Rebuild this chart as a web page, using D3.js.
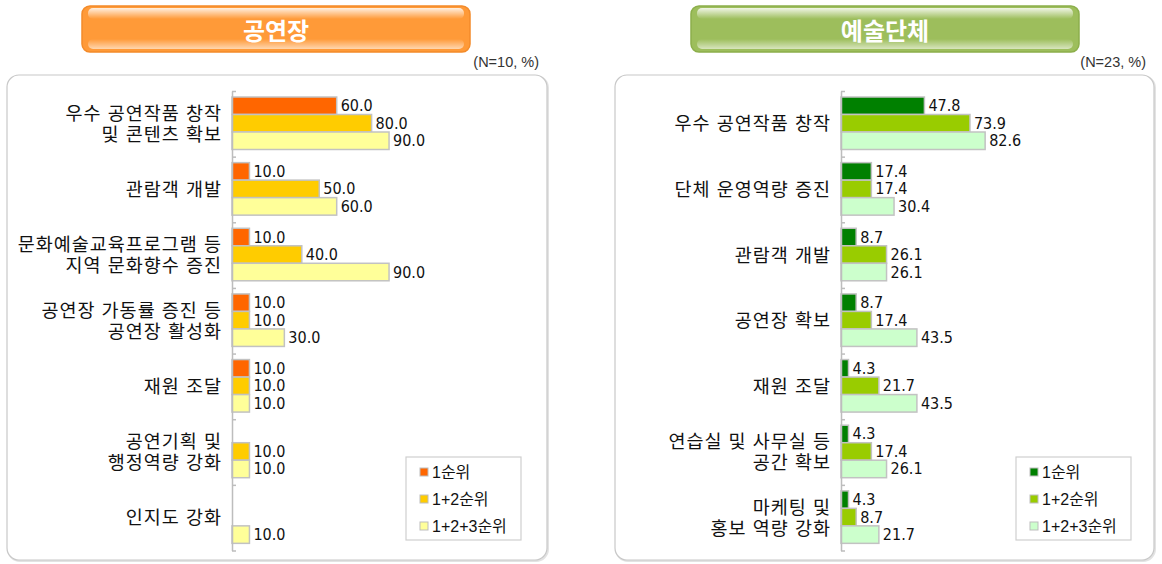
<!DOCTYPE html>
<html>
<head>
<meta charset="utf-8">
<script src="https://cdn.jsdelivr.net/npm/d3@7"></script>
<style>
  body { margin: 0; background: #fff; }
  svg { display: block; }
  .cat { font-family: "Liberation Sans", "Noto Sans CJK KR", sans-serif; font-size: 18.5px; fill: #111; letter-spacing: 1px; }
  .val { font-family: "DejaVu Sans Condensed", "DejaVu Sans", sans-serif; font-stretch: condensed; font-size: 16px; fill: #111; }
  .legend text { font-family: "Liberation Sans", "Noto Sans CJK KR", sans-serif; font-size: 16px; fill: #111; }
  .note { font-family: "Liberation Sans", sans-serif; font-size: 14.5px; fill: #333; }
  .title { font-family: "Noto Sans CJK KR", sans-serif; font-weight: bold; font-size: 24px; fill: #fff; }
  .axis path, .axis line { stroke: #bdbdbd; stroke-width: 1.5; }
</style>
</head>
<body>
<div id="chart"></div>
<script>
// ---- data ----
const seriesNames = ["1순위", "1+2순위", "1+2+3순위"];

const venueTitle = "공연장";
const venueNote = "(N=10, %)";
const venueCategories = [
  "우수 공연작품 창작\n및 콘텐츠 확보",
  "관람객 개발",
  "문화예술교육프로그램 등\n지역 문화향수 증진",
  "공연장 가동률 증진 등\n공연장 활성화",
  "재원 조달",
  "공연기획 및\n행정역량 강화",
  "인지도 강화",
];
const venueFirst = [60.0, 10.0, 10.0, 10.0, 10.0, 0, 0];
const venueFirstSecond = [80.0, 50.0, 40.0, 10.0, 10.0, 10.0, 0];
const venueAll = [90.0, 60.0, 90.0, 30.0, 10.0, 10.0, 10.0];

const groupTitle = "예술단체";
const groupNote = "(N=23, %)";
const groupCategories = [
  "우수 공연작품 창작",
  "단체 운영역량 증진",
  "관람객 개발",
  "공연장 확보",
  "재원 조달",
  "연습실 및 사무실 등\n공간 확보",
  "마케팅 및\n홍보 역량 강화",
];
const groupFirst = [47.8, 17.4, 8.7, 8.7, 4.3, 4.3, 4.3];
const groupFirstSecond = [73.9, 17.4, 26.1, 17.4, 21.7, 17.4, 8.7];
const groupAll = [82.6, 30.4, 26.1, 43.5, 43.5, 26.1, 21.7];

const svg = d3.select("#chart").append("svg")
  .attr("width", 1162).attr("height", 564);
const defs = svg.append("defs");

// glossy highlight gradients for the title buttons
const gTop = defs.append("linearGradient").attr("id", "glossTop")
  .attr("x1", 0).attr("y1", 0).attr("x2", 0).attr("y2", 1);
gTop.append("stop").attr("offset", "0%").attr("stop-color", "#fff").attr("stop-opacity", 0.85);
gTop.append("stop").attr("offset", "100%").attr("stop-color", "#fff").attr("stop-opacity", 0);
const gBot = defs.append("linearGradient").attr("id", "glossBot")
  .attr("x1", 0).attr("y1", 0).attr("x2", 0).attr("y2", 1);
gBot.append("stop").attr("offset", "0%").attr("stop-color", "#fff").attr("stop-opacity", 0);
gBot.append("stop").attr("offset", "100%").attr("stop-color", "#fff").attr("stop-opacity", 0.6);

class RankBarChart {
  constructor({ g, left, width, axisX, title, note, button, categories, series, colors, legendX }) {
    Object.assign(this, { g, left, width, axisX, title, note, button, categories, series, colors, legendX });
    this.init();
  }

  init() {
    this.top = 91;
    this.bottom = 550.5;
    this.barHeight = 17.5;
    this.barGap = 6;

    this.y = d3.scaleBand()
      .domain(this.categories)
      .range([this.top, this.bottom]);
    this.yEdges = d3.scaleLinear()
      .domain([0, this.categories.length])
      .range([this.top, this.bottom]);
    this.x = d3.scaleLinear()
      .domain([0, 100])
      .range([this.axisX, this.axisX + 174.5]);

    this.renderFrame();
    this.renderTitle();
    this.renderBars();
    this.renderAxis();
    this.renderLabels();
    this.renderLegend();
  }

  renderFrame() {
    this.g.append("rect")
      .attr("x", this.left + 1).attr("y", 76)
      .attr("width", this.width).attr("height", 485)
      .attr("rx", 12)
      .attr("fill", "none").attr("stroke", "#e3e3e3").attr("stroke-width", 2);
    this.g.append("rect")
      .attr("x", this.left).attr("y", 75)
      .attr("width", this.width).attr("height", 485)
      .attr("rx", 12)
      .attr("fill", "#fff").attr("stroke", "#c8c8c8").attr("stroke-width", 1.2);
  }

  renderTitle() {
    const b = this.button;
    const gb = this.g.append("g");
    gb.append("rect")
      .attr("x", b.x).attr("y", 6).attr("width", b.w).attr("height", 46)
      .attr("rx", 8)
      .attr("fill", b.fill).attr("stroke", b.stroke).attr("stroke-width", 1.5);
    gb.append("rect")
      .attr("x", b.x + 6).attr("y", 8).attr("width", b.w - 12).attr("height", 11)
      .attr("rx", 5).attr("fill", "url(#glossTop)");
    gb.append("rect")
      .attr("x", b.x + 6).attr("y", 39).attr("width", b.w - 12).attr("height", 10)
      .attr("rx", 5).attr("fill", "url(#glossBot)");
    gb.append("text")
      .attr("class", "title")
      .attr("x", b.x + b.w / 2).attr("y", 29)
      .attr("text-anchor", "middle").attr("dominant-baseline", "central")
      .text(this.title);

    this.g.append("text")
      .attr("class", "note")
      .attr("x", this.left + this.width - 8).attr("y", 67)
      .attr("text-anchor", "end")
      .text(this.note);
  }

  barY(cat, i) {
    return this.y(cat) + this.barGap + i * this.barHeight;
  }

  renderBars() {
    const rows = this.categories.flatMap((c, ci) =>
      this.series.map((s, si) => ({ c, si, v: s[ci] })));
    this.rows = rows.filter((d) => d.v > 0);

    this.g.append("g")
      .selectAll("rect")
      .data(this.rows)
      .join("rect")
      .attr("x", this.x(0))
      .attr("y", (d) => this.barY(d.c, d.si))
      .attr("width", (d) => this.x(d.v) - this.x(0))
      .attr("height", this.barHeight)
      .attr("fill", (d) => this.colors[d.si])
      .attr("stroke", "#c2c2c2")
      .attr("stroke-width", 1.5);

    this.g.append("g")
      .selectAll("text")
      .data(this.rows)
      .join("text")
      .attr("class", "val")
      .attr("x", (d) => this.x(d.v) + 4)
      .attr("y", (d) => this.barY(d.c, d.si) + this.barHeight / 2)
      .attr("dominant-baseline", "central")
      .text((d) => d3.format(".1f")(d.v));
  }

  renderAxis() {
    this.g.append("g")
      .attr("class", "axis")
      .attr("transform", `translate(${this.axisX},0)`)
      .call(
        d3.axisRight(this.yEdges)
          .tickValues(d3.range(this.categories.length + 1))
          .tickSize(4)
          .tickSizeOuter(0)
          .tickFormat("")
      );
  }

  renderLabels() {
    const lineH = 21;
    this.g.append("g")
      .selectAll("text")
      .data(this.categories)
      .join("text")
      .attr("class", "cat")
      .attr("text-anchor", "end")
      .attr("transform", (d) => `translate(${this.axisX - 10},${this.y(d) + this.y.bandwidth() / 2})`)
      .each(function (d) {
        const lines = d.split("\n");
        d3.select(this)
          .selectAll("tspan")
          .data(lines)
          .join("tspan")
          .attr("x", 0)
          .attr("y", (l, i) => (i - (lines.length - 1) / 2) * lineH)
          .attr("dominant-baseline", "central")
          .text((l) => l);
      });
  }

  renderLegend() {
    const lg = this.g.append("g")
      .attr("class", "legend")
      .attr("transform", `translate(${this.legendX},457)`);
    lg.append("rect")
      .attr("width", 115).attr("height", 83)
      .attr("fill", "#fff").attr("stroke", "#cfcfcf").attr("stroke-width", 1.2);
    const item = lg.selectAll("g.item")
      .data(seriesNames)
      .join("g")
      .attr("class", "item")
      .attr("transform", (d, i) => `translate(14,${15 + i * 27})`);
    item.append("rect")
      .attr("y", -4).attr("width", 8).attr("height", 8)
      .attr("fill", (d, i) => this.colors[i])
      .attr("stroke", "#bdbdbd").attr("stroke-width", 1);
    item.append("text")
      .attr("x", 12).attr("dominant-baseline", "central")
      .text((d) => d);
  }
}

new RankBarChart({
  g: svg.append("g"),
  left: 7,
  width: 540,
  axisX: 232,
  title: venueTitle,
  note: venueNote,
  button: { x: 82, w: 388, fill: "#FF9A38", stroke: "#F38B2A" },
  categories: venueCategories,
  series: [venueFirst, venueFirstSecond, venueAll],
  colors: ["#FF6600", "#FFCC00", "#FFFF99"],
  legendX: 406,
});

new RankBarChart({
  g: svg.append("g"),
  left: 615,
  width: 539,
  axisX: 841,
  title: groupTitle,
  note: groupNote,
  button: { x: 691, w: 388, fill: "#9DBE5C", stroke: "#8CAF4B" },
  categories: groupCategories,
  series: [groupFirst, groupFirstSecond, groupAll],
  colors: ["#008000", "#99CC00", "#CCFFCC"],
  legendX: 1016,
});
</script>
</body>
</html>
